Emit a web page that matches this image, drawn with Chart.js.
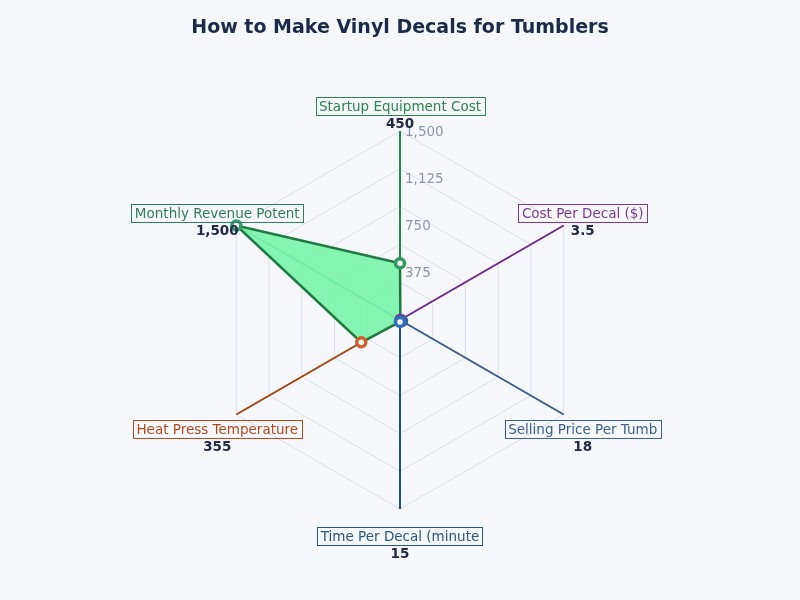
<!DOCTYPE html>
<html>
<head>
<meta charset="utf-8">
<title>How to Make Vinyl Decals for Tumblers</title>
<script src="https://cdn.jsdelivr.net/npm/chart.js@4.4.1/dist/chart.umd.min.js"></script>
<style>
  html, body { margin: 0; padding: 0; background: #f5f7fb; }
  canvas { display: block; }
</style>
</head>
<body>
<canvas id="chart" width="800" height="600"></canvas>
<script>
// labels as they appear on the chart (cut at 22 chars)
const categories = [
    'Startup Equipment Cost',
    'Cost Per Decal ($)',
    'Selling Price Per Tumb',
    'Time Per Decal (minute',
    'Heat Press Temperature',
    'Monthly Revenue Potent'
];
const values = [450, 3.5, 18, 15, 355, 1500];
const tickLabels = [375, 750, 1125, 1500];

const axisColors = ['#1f8a47', '#6b2a8c', '#3b5b8c', '#22507c', '#a3420f', '#2b8a5c'];
const labelColors = ['#2a8750', '#7b3b93', '#3d6090', '#2a5686', '#b24b1b', '#2f7e5b'];
const pointColors = ['#2e9a5a', '#7b3b93', '#3d6090', '#2f6dbf', '#d0602a', '#3a9a72'];

Chart.defaults.font.family = '"DejaVu Sans", sans-serif';

const fmt = v => v.toLocaleString('en-US');

// draws the boxed axis names and the values under them
const axisLabelPlugin = {
    id: 'axisLabels',
    afterDraw(chart) {
        const scale = chart.scales.r;
        const ctx = chart.ctx;
        ctx.save();
        ctx.textAlign = 'center';
        ctx.textBaseline = 'middle';
        categories.forEach((name, i) => {
            const end = scale.getPointPosition(i, scale.drawingArea);
            const dx = end.x - scale.xCenter;
            const dy = end.y - scale.yCenter;
            const len = Math.sqrt(dx * dx + dy * dy);
            const cx = end.x + dx / len * 22;
            const cy = end.y + dy / len * 25 + (dy > 1 ? 2 : 0);

            ctx.font = '13.5px "DejaVu Sans", sans-serif';
            const w = ctx.measureText(name).width + 7;
            const h = 18;
            ctx.strokeStyle = labelColors[i];
            ctx.lineWidth = 1;
            ctx.strokeRect(Math.round(cx - w / 2) + 0.5, Math.round(cy - h / 2) + 0.5, Math.round(w), h);
            ctx.fillStyle = labelColors[i];
            ctx.fillText(name, cx, cy + 1);

            ctx.font = 'bold 13.5px "DejaVu Sans", sans-serif';
            ctx.fillStyle = '#232a45';
            ctx.fillText(fmt(values[i]), cx, cy + 18);
        });
        ctx.restore();
    }
};

// tick text sits on a 375 step while the rings use 300
const tickLabelPlugin = {
    id: 'tickLabels',
    afterDatasetsDraw(chart) {
        const scale = chart.scales.r;
        const ctx = chart.ctx;
        ctx.save();
        ctx.font = '13.5px "DejaVu Sans", sans-serif';
        ctx.fillStyle = '#8e95a7';
        ctx.textAlign = 'left';
        ctx.textBaseline = 'middle';
        tickLabels.forEach(v => {
            const p = scale.getPointPositionForValue(0, v);
            ctx.fillText(fmt(v), p.x + 5, p.y + 1);
        });
        ctx.restore();
    }
};

new Chart(document.getElementById('chart'), {
    type: 'radar',
    data: {
        labels: categories,
        datasets: [{
            data: values,
            backgroundColor: 'rgba(122, 245, 170, 0.92)',
            borderColor: '#1f7a40',
            borderWidth: 2.5,
            pointRadius: 4.5,
            pointHoverRadius: 4.5,
            pointBorderWidth: 3.5,
            pointBackgroundColor: '#ffffff',
            pointBorderColor: pointColors
        }]
    },
    options: {
        responsive: false,
        animation: false,
        events: [],
        layout: { padding: { top: 0, bottom: 91, left: 0, right: 0 } },
        plugins: {
            legend: { display: false },
            tooltip: { enabled: false },
            title: {
                display: true,
                text: 'How to Make Vinyl Decals for Tumblers',
                color: '#1c2a4a',
                font: { size: 19, weight: 'bold' },
                padding: { top: 17, bottom: 91.2 }
            }
        },
        scales: {
            r: {
                min: 0,
                max: 1500,
                ticks: { display: false, stepSize: 300 },
                pointLabels: { display: false },
                grid: { color: '#dbdfe7', lineWidth: 1 },
                angleLines: {
                    color: ctx => axisColors[ctx.index],
                    lineWidth: 2
                }
            }
        }
    },
    plugins: [tickLabelPlugin, axisLabelPlugin]
});
</script>
</body>
</html>
